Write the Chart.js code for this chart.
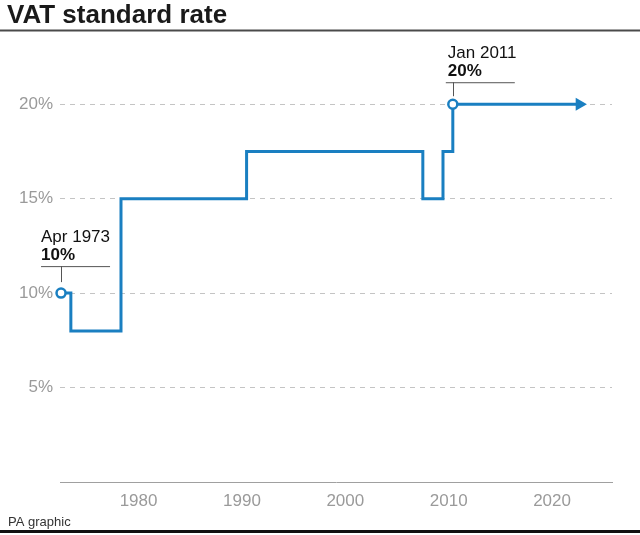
<!DOCTYPE html>
<html>
<head>
<meta charset="utf-8">
<script src="https://cdn.jsdelivr.net/npm/chart.js@4.4.0/dist/chart.umd.min.js"></script>
<style>
  html, body { margin: 0; padding: 0; background: #fff; }
  #wrap { position: relative; width: 640px; height: 535px; }
</style>
</head>
<body>
<div id="wrap"><canvas id="c" width="640" height="535"></canvas></div>
<script>
// ---- data ----
const years = [1972.5, 1973.45, 1978.3, 1990.45, 2007.5, 2009.45, 2010.4, 2022.65];
const rates = [10, 8, 15, 17.5, 15, 17.5, 20, 20];
const xTickYears = [1980, 1990, 2000, 2010, 2020];
const yTickValues = [5, 10, 15, 20];
const calloutIndex = [0, 6];
const calloutDate = ['Apr 1973', 'Jan 2011'];
const calloutValue = ['10%', '20%'];
const titleText = 'VAT standard rate';
const sourceText = 'PA graphic';

const BLUE = '#1a7fc1';
const FONT = '"Liberation Sans", Arial, sans-serif';

const points = years.map((y, i) => ({ x: y, y: rates[i] }));
const lastIdx = points.length - 1;

// callout geometry (offsets from the point, in px)
const calloutStyle = [
  { textDx: -20, lineL: -20, lineR: 49, lineDy: -27, stemEnd: -11 },
  { textDx: -5, lineL: -7, lineR: 62, lineDy: -22, stemEnd: -8 }
];

const framePlugin = {
  id: 'frame',
  beforeDraw(chart) {
    const ctx = chart.ctx;
    ctx.save();
    ctx.fillStyle = '#fff';
    ctx.fillRect(0, 0, chart.width, chart.height);
    // title
    ctx.fillStyle = '#1a1a1a';
    ctx.font = 'bold 26px ' + FONT;
    ctx.textBaseline = 'alphabetic';
    ctx.textAlign = 'left';
    ctx.fillText(titleText, 7, 23);
    // title rule
    ctx.fillStyle = '#4a4a4a';
    ctx.fillRect(0, 29.5, chart.width, 2);
    // source
    ctx.fillStyle = '#333';
    ctx.font = '13px ' + FONT;
    ctx.fillText(sourceText, 8, 526);
    // bottom rule
    ctx.fillStyle = '#111';
    ctx.fillRect(0, 530, chart.width, 3);
    ctx.restore();
  },
  beforeDatasetsDraw(chart) {
    const ctx = chart.ctx;
    const xs = chart.scales.x, ys = chart.scales.y;
    ctx.save();
    calloutIndex.forEach((idx, k) => {
      const st = calloutStyle[k];
      const px = xs.getPixelForValue(points[idx].x);
      const py = ys.getPixelForValue(points[idx].y);
      const ly = py + st.lineDy;
      ctx.strokeStyle = '#555';
      ctx.lineWidth = 1;
      ctx.beginPath();
      ctx.moveTo(px + st.lineL, ly + 0.5);
      ctx.lineTo(px + st.lineR, ly + 0.5);
      ctx.moveTo(Math.round(px) + 0.5, ly);
      ctx.lineTo(Math.round(px) + 0.5, py + st.stemEnd);
      ctx.stroke();
      ctx.fillStyle = '#111';
      ctx.textAlign = 'left';
      ctx.textBaseline = 'alphabetic';
      ctx.font = 'bold 17px ' + FONT;
      ctx.fillText(calloutValue[k], px + st.textDx, ly - 6);
      ctx.font = '17px ' + FONT;
      ctx.fillText(calloutDate[k], px + st.textDx, ly - 24);
    });
    ctx.restore();
  }
};

new Chart(document.getElementById('c'), {
  type: 'line',
  data: {
    datasets: [{
      data: points,
      borderColor: BLUE,
      borderWidth: 3,
      stepped: 'before',
      fill: false,
      clip: false,
      pointStyle: ctx => ctx.dataIndex === lastIdx ? 'triangle' : 'circle',
      rotation: ctx => ctx.dataIndex === lastIdx ? 90 : 0,
      pointRadius: ctx => ctx.dataIndex === lastIdx ? 7.5 : (calloutIndex.includes(ctx.dataIndex) ? 4.5 : 0),
      pointBackgroundColor: ctx => ctx.dataIndex === lastIdx ? BLUE : '#fff',
      pointBorderColor: BLUE,
      pointBorderWidth: ctx => ctx.dataIndex === lastIdx ? 0 : 2.5,
      pointHoverRadius: 0
    }]
  },
  options: {
    responsive: false,
    animation: false,
    events: [],
    layout: { padding: { top: 40, right: 28, left: 0, bottom: 0 } },
    plugins: { legend: { display: false }, tooltip: { enabled: false }, title: { display: false } },
    scales: {
      x: {
        type: 'linear',
        min: 1972.4,
        max: 2025.8,
        afterBuildTicks: s => { s.ticks = xTickYears.map(v => ({ value: v })); },
        afterFit: s => { s.height = 53; },
        grid: { display: false, drawTicks: false },
        border: { display: true, color: '#a0a0a0', width: 1 },
        ticks: {
          padding: 9,
          color: '#9a9a9a',
          font: { family: FONT, size: 17 },
          callback: v => String(v),
          maxRotation: 0
        }
      },
      y: {
        min: 0,
        max: 23.4,
        afterBuildTicks: s => { s.ticks = yTickValues.map(v => ({ value: v })); },
        afterFit: s => { s.width = 60; },
        grid: { color: '#c4c4c4', lineWidth: 1, drawTicks: false },
        border: { display: false, dash: [5, 5] },
        ticks: {
          padding: 7,
          color: '#9a9a9a',
          font: { family: FONT, size: 17 },
          callback: v => v + '%'
        }
      }
    }
  },
  plugins: [framePlugin]
});
</script>
</body>
</html>
